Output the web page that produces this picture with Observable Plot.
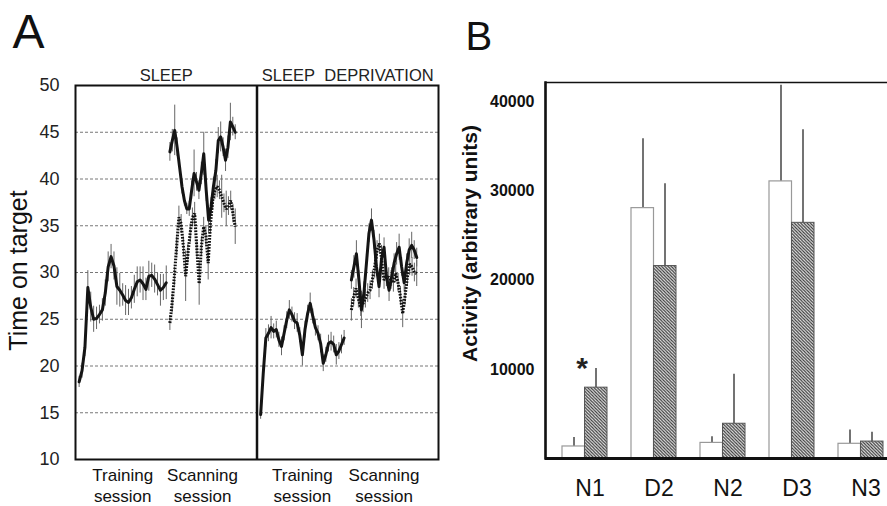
<!DOCTYPE html>
<html><head><meta charset="utf-8">
<script src="https://cdn.jsdelivr.net/npm/d3@7"></script>
<script src="https://cdn.jsdelivr.net/npm/@observablehq/plot@0.6"></script>
<style>
body{margin:0;background:#fff;}
#wrap{position:relative;width:887px;height:506px;overflow:hidden;font-family:"Liberation Sans",Arial,sans-serif;}
#a,#b{position:absolute;top:0;}
#a{left:0;width:440px;} #b{left:440px;width:520px;}
#a svg,#b svg{max-width:none !important;}
#b g[aria-label="y-axis tick label"]{font-weight:bold;}
</style></head><body><div id="wrap"><div id="a"></div><div id="b"></div></div>
<script>
// ---------- Panel A data ----------
const yTicksA = [10, 15, 20, 25, 30, 35, 40, 45, 50];
const gridA = [15, 20, 25, 30, 35, 40, 45];
const conditions = ["SLEEP", "SLEEP\u00a0\u00a0DEPRIVATION"];
const conditionStart = [0, 50];
const conditionEnd = [50, 100];
const sessionLabels = ["Training\nsession", "Scanning\nsession", "Training\nsession", "Scanning\nsession"];
const sessionStart = [1, 26, 51, 76];
const sessionEnd = [25, 44, 74, 94];

const sleepTrain = [18.3, 19.5, 22.0, 28.4, 26.3, 25.0, 25.1, 25.5, 26.0, 27.8, 30.6, 31.7, 30.7, 28.5, 28.1, 27.6, 27.0, 26.8, 27.3, 28.2, 29.0, 29.2, 28.8, 28.2, 29.6, 29.7, 29.3, 28.7, 28.1, 28.4, 28.9];
const sleepTrainErr = [0.6, 0.8, 1.0, 1.8, 1.6, 1.4, 1.2, 1.0, 1.2, 1.4, 1.6, 1.3, 1.5, 2.0, 1.8, 1.2, 1.6, 1.4, 1.2, 1.5, 1.6, 1.4, 1.8, 1.2, 1.6, 1.3, 1.5, 1.2, 1.7, 1.4, 1.8];

const sleepScanSolid = [42.9, 44.1, 45.2, 43.4, 41.3, 39.2, 37.7, 36.8, 36.8, 38.8, 40.6, 39.7, 38.8, 40.6, 42.7, 38.8, 35.6, 37.0, 39.2, 40.9, 44.1, 44.5, 43.4, 42.0, 43.4, 46.1, 45.6, 45.0];
const sleepScanSolidErr = [1.0, 1.2, 2.7, 1.0, 0.8, 0.8, 0.6, 0.6, 0.8, 1.0, 2.5, 1.0, 1.0, 1.2, 2.3, 1.2, 1.4, 1.0, 1.0, 1.2, 1.4, 1.6, 1.0, 1.2, 1.2, 2.0, 1.0, 0.8];

const sleepScanDotted = [24.6, 26.7, 29.6, 32.8, 35.9, 35.2, 32.8, 29.6, 32.0, 34.2, 35.9, 36.3, 32.4, 28.8, 32.8, 34.9, 33.9, 31.0, 35.2, 37.7, 38.8, 39.2, 38.8, 38.1, 37.4, 36.8, 37.1, 37.7, 36.3, 34.9];
const sleepScanDottedErr = [0.8, 1.0, 1.0, 1.0, 1.2, 1.0, 1.0, 2.7, 1.0, 1.0, 1.0, 1.2, 1.0, 2.3, 1.0, 1.0, 1.0, 1.8, 1.0, 1.0, 1.0, 1.2, 1.0, 2.3, 1.0, 1.9, 1.0, 1.0, 1.0, 1.9];

const depTrain = [14.8, 19.2, 23.0, 23.5, 24.1, 23.7, 23.9, 22.8, 22.1, 23.5, 24.9, 26.0, 25.5, 24.8, 24.6, 23.3, 21.2, 23.9, 25.6, 26.7, 25.3, 24.1, 23.5, 22.4, 20.3, 21.2, 22.4, 22.6, 22.3, 21.2, 21.6, 22.3, 23.0];
const depTrainErr = [0.5, 0.8, 1.0, 0.9, 1.2, 0.8, 0.9, 0.8, 1.0, 0.8, 0.9, 1.0, 0.8, 0.9, 1.0, 0.8, 1.2, 0.9, 0.9, 1.1, 0.8, 0.9, 0.8, 1.0, 0.9, 0.8, 0.9, 1.0, 0.9, 1.1, 0.9, 1.0, 0.8];

const depScanSolid = [29.2, 30.6, 32.0, 29.2, 26.0, 27.8, 31.0, 34.2, 35.6, 33.5, 30.6, 28.5, 31.5, 32.7, 29.5, 28.1, 29.5, 31.0, 32.0, 32.7, 30.6, 28.9, 31.0, 32.4, 32.9, 32.4, 31.6];
const depScanSolidErr = [1.0, 1.2, 1.4, 1.0, 2.0, 1.2, 1.0, 1.0, 1.2, 1.0, 1.0, 1.2, 1.4, 1.0, 1.0, 1.2, 1.0, 1.0, 1.2, 1.4, 1.0, 1.0, 1.0, 1.2, 1.4, 1.0, 1.0];

const depScanDotted = [26.0, 27.4, 28.3, 27.2, 26.3, 26.7, 27.2, 27.8, 28.1, 29.2, 30.6, 32.4, 33.1, 31.3, 29.2, 29.5, 29.5, 29.2, 28.9, 29.9, 28.9, 27.5, 25.6, 27.5, 29.5, 30.9, 30.6, 30.0, 29.9];
const depScanDottedErr = [1.2, 1.0, 1.0, 1.0, 1.0, 1.0, 1.0, 1.0, 1.0, 1.0, 1.2, 1.0, 1.0, 1.0, 1.0, 1.0, 1.0, 1.0, 1.0, 1.0, 1.0, 1.0, 1.5, 1.0, 1.0, 1.2, 1.0, 1.0, 1.4];

// ---------- Panel B data ----------
const groups = ["N1", "D2", "N2", "D3", "N3"];
const whiteMean = [1350, 28100, 1750, 31100, 1650];
const whiteErr = [1000, 7800, 700, 10800, 1550];
const hatchMean = [7950, 21600, 3900, 26450, 1900];
const hatchErr = [2150, 9250, 5550, 10450, 1050];
const yTicksB = [10000, 20000, 30000, 40000];
const significant = ["N1"];

const FONT = '"Liberation Sans", Arial, sans-serif';

// ---------- Build panel A ----------
const seriesDefs = [
  {session: 0, style: "solid", values: sleepTrain, errs: sleepTrainErr},
  {session: 1, style: "solid", values: sleepScanSolid, errs: sleepScanSolidErr},
  {session: 1, style: "dotted", values: sleepScanDotted, errs: sleepScanDottedErr},
  {session: 2, style: "solid", values: depTrain, errs: depTrainErr},
  {session: 3, style: "solid", values: depScanSolid, errs: depScanSolidErr},
  {session: 3, style: "dotted", values: depScanDotted, errs: depScanDottedErr}
];
const pts = seriesDefs.flatMap((s, k) => s.values.map((v, i) => ({
  key: k, style: s.style,
  x: sessionStart[s.session] + i * (sessionEnd[s.session] - sessionStart[s.session]) / (s.values.length - 1),
  y: v, lo: v - s.errs[i], hi: v + s.errs[i]
})));

const plotA = Plot.plot({
  width: 440, height: 506,
  marginLeft: 75, marginRight: 2, marginTop: 85, marginBottom: 47,
  style: {fontFamily: FONT, background: "transparent", overflow: "visible", color: "#111", maxWidth: "none"},
  x: {domain: [0, 100], axis: null},
  y: {domain: [10, 50], axis: null},
  marks: [
    Plot.ruleY(gridA, {stroke: "#777", strokeWidth: 1, strokeDasharray: "3,2"}),
    Plot.ruleX(pts, {x: "x", y1: "lo", y2: "hi", stroke: "#666", strokeWidth: 1}),
    Plot.line(pts.filter(d => d.style === "solid"), {x: "x", y: "y", z: "key", stroke: "#151515", strokeWidth: 3, strokeLinejoin: "round"}),
    Plot.line(pts.filter(d => d.style === "dotted"), {x: "x", y: "y", z: "key", stroke: "#111", strokeWidth: 3.1, strokeDasharray: "1.7,1.3", strokeLinecap: "butt", strokeLinejoin: "miter"}),
    Plot.ruleX([conditionEnd[0]], {stroke: "#111", strokeWidth: 2.5}),
    Plot.frame({stroke: "#111", strokeWidth: 2}),
    Plot.axisY({ticks: yTicksA, tickSize: 0, tickPadding: 16, fontSize: 18, fill: "#222", label: null}),
    Plot.text(conditions, {x: (d, i) => (conditionStart[i] + conditionEnd[i]) / 2, frameAnchor: "top", dy: -16, fontSize: 16.5, fill: "#222"}),
    Plot.text(sessionLabels, {x: (d, i) => (sessionStart[i] + sessionEnd[i]) / 2, frameAnchor: "bottom", lineAnchor: "top", dy: 7, fontSize: 17, lineHeight: 1.22, fill: "#111"}),
    Plot.text(["A"], {frameAnchor: "top-left", textAnchor: "start", lineAnchor: "middle", dx: -63, dy: -53, fontSize: 48, fill: "#111"}),
    Plot.text(["Time on target"], {frameAnchor: "left", textAnchor: "middle", rotate: -90, dx: -57, dy: -2, fontSize: 25, fill: "#111"})
  ]
});
document.getElementById("a").append(plotA);

// ---------- Build panel B ----------
const barsW = groups.map((g, i) => ({group: g, value: whiteMean[i], upper: whiteMean[i] + whiteErr[i]}));
const barsH = groups.map((g, i) => ({group: g, value: hatchMean[i], upper: hatchMean[i] + hatchErr[i]}));
const sig = barsH.filter(d => significant.includes(d.group));

const plotB = Plot.plot({
  width: 520, height: 506,
  marginLeft: 105, marginRight: 0, marginTop: 82, marginBottom: 48,
  style: {fontFamily: FONT, background: "transparent", overflow: "visible", color: "#111", maxWidth: "none"},
  x: {type: "band", domain: groups, range: [109.5, 454.5], padding: 0},
  y: {domain: [0, 42200]},
  marks: [
    Plot.ruleX(barsW, {x: "group", y1: "value", y2: "upper", dx: -11, stroke: "#444", strokeWidth: 1.5}),
    Plot.ruleX(barsH, {x: "group", y1: "value", y2: "upper", dx: 11, stroke: "#444", strokeWidth: 1.5}),
    Plot.barY(barsW, {x: "group", y: "value", fill: "#fff", stroke: "#999", strokeWidth: 1.2, insetLeft: 12, insetRight: 34.5}),
    Plot.barY(barsH, {x: "group", y: "value", fill: "url(#hatch)", stroke: "#555", strokeWidth: 1, insetLeft: 34.5, insetRight: 12}),
    Plot.frame({stroke: "#111", strokeWidth: 1.5}),
    Plot.frame({anchor: "left", stroke: "#111", strokeWidth: 2.5}),
    Plot.ruleY([0], {stroke: "#111", strokeWidth: 3}),
    Plot.axisY({ticks: yTicksB, tickSize: 0, tickPadding: 11, tickFormat: "d", fontSize: 16, fontWeight: "bold", fill: "#111", label: null}),
    Plot.axisX({tickSize: 0, tickPadding: 21, fontSize: 23, dx: 5, fill: "#111", label: null}),
    Plot.text(sig, {x: "group", y: "upper", text: () => "*", dx: -3, fontSize: 30, fontWeight: "bold", fill: "#222"}),
    Plot.text(["B"], {frameAnchor: "top-left", textAnchor: "start", lineAnchor: "middle", dx: -80, dy: -45, fontSize: 40, fill: "#111"}),
    Plot.text(["Activity (arbitrary units)"], {frameAnchor: "left", textAnchor: "middle", rotate: -90, dx: -75, dy: -27, fontSize: 21, fontWeight: "bold", fill: "#111"})
  ]
});
// hatch pattern
const defs = d3.select(plotB).insert("defs", ":first-child");
const pat = defs.append("pattern").attr("id", "hatch").attr("patternUnits", "userSpaceOnUse").attr("width", 3.2).attr("height", 3.2);
pat.append("rect").attr("width", 3.2).attr("height", 3.2).attr("fill", "#e8e8e8");
pat.append("path").attr("d", "M-0.8,-0.8L4,4M-0.8,2.4L0.8,4M2.4,-0.8L4,0.8").attr("stroke", "#333").attr("stroke-width", 1.1);
document.getElementById("b").append(plotB);
</script></body></html>
